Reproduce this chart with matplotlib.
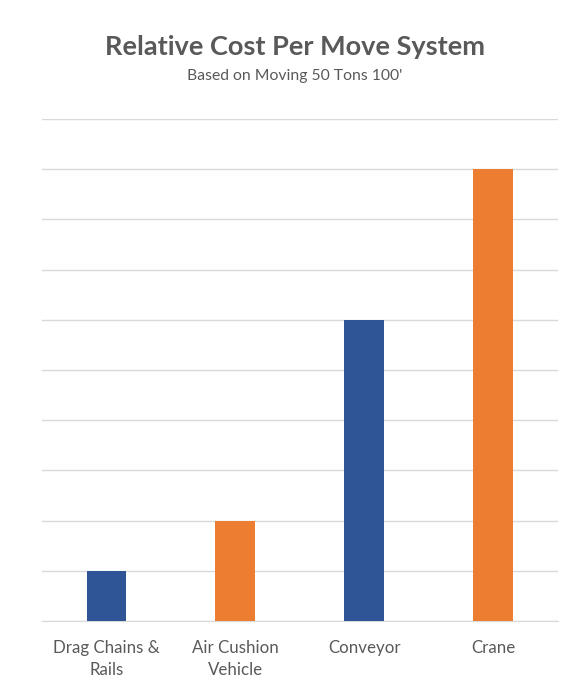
import matplotlib.pyplot as plt

categories = ['Drag Chains &\nRails', 'Air Cushion\nVehicle', 'Conveyor', 'Crane']
costs = [1, 2, 6, 9]
bar_colors = ['#2F5597', '#ED7D31', '#2F5597', '#ED7D31']

plt.rcParams['font.family'] = ['Lato', 'DejaVu Sans']

fig = plt.figure(figsize=(5.86, 6.92), dpi=100)
ax = fig.add_axes([0.0717, 0.1026, 0.8803, 0.7254])

x = range(len(categories))
ax.bar(x, costs, width=0.31, color=bar_colors, zorder=3)

ax.set_xlim(-0.5, len(categories) - 0.5)
ax.set_ylim(0, 10)
ax.set_yticks(range(0, 11))
ax.yaxis.grid(True, color='#D9D9D9', linewidth=1, zorder=0)
ax.tick_params(axis='y', left=False, labelleft=False)
ax.tick_params(axis='x', bottom=False, pad=10, colors='#595959', labelsize=12.2)
ax.set_xticks(list(x))
ax.set_xticklabels(categories, linespacing=1.5)
for s in ['top', 'right', 'left']:
    ax.spines[s].set_visible(False)
ax.spines['bottom'].set_color('#D9D9D9')

fig.text(0.503, 0.932, 'Relative Cost Per Move System', ha='center', va='center',
         fontsize=19.5, fontweight='bold', color='#595959')
fig.text(0.503, 0.890, "Based on Moving 50 Tons 100'", ha='center', va='center',
         fontsize=11.3, color='#595959')

fig.savefig('out.png', dpi=100)
